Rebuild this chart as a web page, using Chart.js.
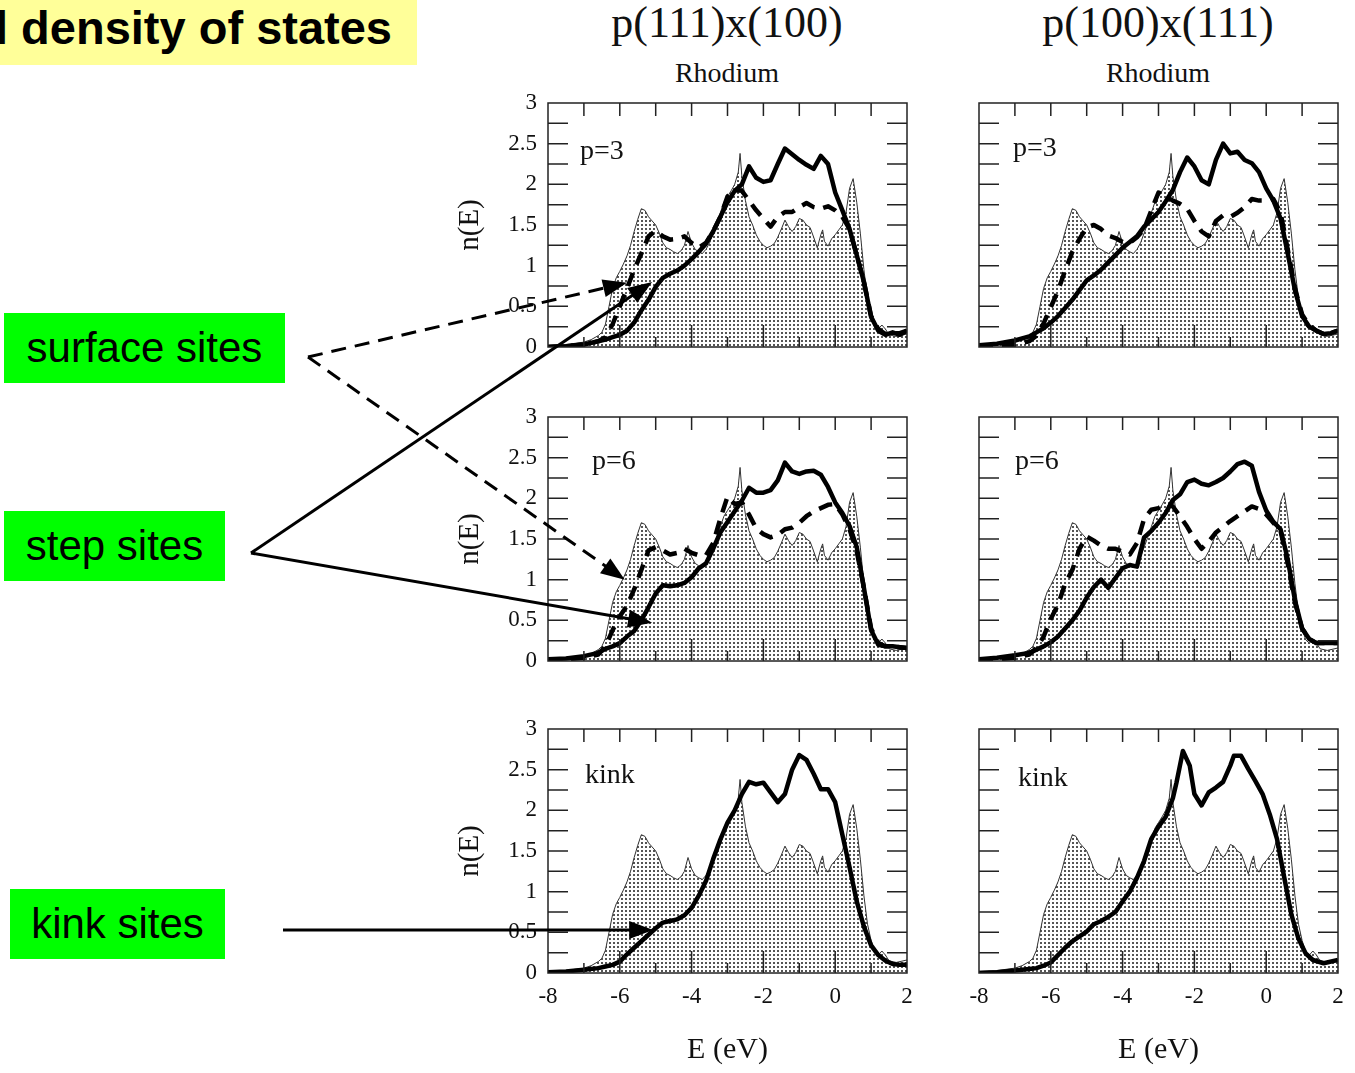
<!DOCTYPE html>
<html lang="en">
<head>
<meta charset="UTF-8">
<title>Local density of states</title>
<script src="https://cdn.jsdelivr.net/npm/chart.js@4.4.1/dist/chart.umd.min.js"></script>
<style>
  body { margin: 0; background: #fff; }
  .page { position: relative; width: 1355px; height: 1073px; overflow: hidden; }
  .title { position: absolute; left: 0; top: 0; width: 417px; height: 65px; background: #ffff99; overflow: hidden; }
  .title span { position: absolute; left: -5px; top: 0; line-height: 57px; font: bold 47px "Liberation Sans", Arial, sans-serif; white-space: nowrap; }
  .tag { position: absolute; background: #00ff00; display: flex; align-items: center; justify-content: center; font: 42px "Liberation Sans", Arial, sans-serif; }
  .head { position: absolute; transform: translate(-50%, -50%); font-family: "Liberation Serif", "Times New Roman", serif; white-space: nowrap; line-height: 1; color: #111; }
  canvas { position: absolute; }
  svg { position: absolute; left: 0; top: 0; }
</style>
</head>
<body>
<div class="page" id="page">
  <div class="title"><span>l density of states</span></div>

  <div class="head" style="left:727px; top:23px; font-size:44px">p(111)x(100)</div>
  <div class="head" style="left:727px; top:73px; font-size:28px">Rhodium</div>
  <div class="head" style="left:1158px; top:23px; font-size:44px">p(100)x(111)</div>
  <div class="head" style="left:1158px; top:73px; font-size:28px">Rhodium</div>

  <div class="tag" style="left:4px; top:313px; width:281px; height:70px">surface sites</div>
  <div class="tag" style="left:4px; top:511px; width:221px; height:70px">step sites</div>
  <div class="tag" style="left:10px; top:889px; width:215px; height:70px">kink sites</div>
</div>

<script>
// bulk density of states (thin line, dotted fill) - same in every panel
var bulkE = [-8, -7.5, -7, -6.8, -6.6, -6.5, -6.4, -6.3, -6.2, -6.1,
             -6.0, -5.9, -5.8, -5.7, -5.6, -5.5, -5.4, -5.3, -5.2, -5.1,
             -5.0, -4.9, -4.8, -4.7, -4.6, -4.5, -4.4, -4.3, -4.2, -4.1,
             -4.0, -3.9, -3.8, -3.7, -3.6, -3.5, -3.4, -3.3, -3.2, -3.1,
             -3.0, -2.9, -2.8, -2.7, -2.65, -2.6, -2.5, -2.4, -2.3, -2.2,
             -2.1, -2.0, -1.9, -1.8, -1.7, -1.6, -1.5, -1.4, -1.3, -1.2,
             -1.1, -1.0, -0.9, -0.8, -0.7, -0.6, -0.5, -0.4, -0.35, -0.3,
             -0.2, -0.1, 0.0, 0.1, 0.2, 0.3, 0.4, 0.5, 0.6, 0.7,
             0.8, 0.9, 1.0, 1.1, 1.2, 1.3, 1.4, 1.5, 1.7, 2.0];
var bulkN = [0.02, 0.03, 0.06, 0.09, 0.14, 0.18, 0.28, 0.5, 0.72, 0.85,
             0.93, 1.02, 1.12, 1.25, 1.42, 1.57, 1.7, 1.68, 1.6, 1.55,
             1.5, 1.4, 1.28, 1.22, 1.2, 1.17, 1.15, 1.18, 1.25, 1.42,
             1.28, 1.2, 1.17, 1.15, 1.2, 1.28, 1.4, 1.52, 1.65, 1.78,
             1.85, 1.92, 2.0, 2.15, 2.38, 2.1, 1.8, 1.6, 1.5, 1.38,
             1.3, 1.25, 1.22, 1.24, 1.27, 1.35, 1.45, 1.56, 1.48, 1.42,
             1.48, 1.58, 1.56, 1.5, 1.47, 1.35, 1.22, 1.38, 1.44, 1.3,
             1.24, 1.33, 1.38, 1.44, 1.5, 1.65, 1.95, 2.07, 1.78, 1.4,
             0.95, 0.6, 0.4, 0.26, 0.22, 0.27, 0.22, 0.15, 0.13, 0.16];

// energies for the site-projected curves
var siteE = [-8, -7.5, -7, -6.6, -6.4, -6.2, -6.0, -5.8, -5.6, -5.4,
             -5.2, -5.0, -4.8, -4.6, -4.4, -4.2, -4.0, -3.8, -3.6, -3.4,
             -3.2, -3.0, -2.8, -2.6, -2.4, -2.2, -2.0, -1.8, -1.6, -1.4,
             -1.2, -1.0, -0.8, -0.6, -0.4, -0.2, 0.0, 0.2, 0.4, 0.6,
             0.8, 1.0, 1.2, 1.4, 1.6, 1.8, 2.0];

// p(111)x(100)
var step111p3 = [0.0, 0.01, 0.03, 0.07, 0.09, 0.12, 0.15, 0.2, 0.3, 0.45,
                 0.58, 0.74, 0.85, 0.9, 0.94, 1.0, 1.08, 1.17, 1.27, 1.42,
                 1.6, 1.78, 1.92, 2.0, 2.22, 2.08, 2.03, 2.05, 2.25, 2.44,
                 2.37, 2.3, 2.24, 2.19, 2.35, 2.25, 1.9, 1.68, 1.45, 1.13,
                 0.8, 0.37, 0.2, 0.15, 0.18, 0.15, 0.2];
var surf111p3 = [0.0, 0.01, 0.03, 0.07, 0.12, 0.28, 0.5, 0.72, 0.95, 1.15,
                 1.36, 1.43, 1.36, 1.32, 1.33, 1.36, 1.28, 1.22, 1.28, 1.42,
                 1.6, 1.85, 1.93, 1.92, 1.8, 1.68, 1.58, 1.48, 1.6, 1.66,
                 1.66, 1.72, 1.77, 1.72, 1.7, 1.73, 1.68, 1.6, 1.45, 1.13,
                 0.8, 0.38, 0.22, 0.16, 0.17, 0.17, 0.2];
var step111p6 = [0.02, 0.03, 0.06, 0.1, 0.15, 0.18, 0.22, 0.3, 0.37, 0.5,
                 0.66, 0.83, 0.93, 0.92, 0.93, 0.96, 1.03, 1.14, 1.2, 1.38,
                 1.58, 1.71, 1.84, 1.97, 2.13, 2.07, 2.07, 2.1, 2.22, 2.44,
                 2.33, 2.3, 2.33, 2.34, 2.29, 2.14, 1.95, 1.82, 1.66, 1.4,
                 0.9, 0.38, 0.2, 0.18, 0.18, 0.17, 0.16];
var surf111p6 = [0.0, 0.02, 0.04, 0.08, 0.18, 0.38, 0.55, 0.68, 0.88, 1.12,
                 1.36, 1.4, 1.36, 1.31, 1.33, 1.38, 1.33, 1.3, 1.3, 1.45,
                 1.75, 2.02, 1.93, 1.95, 1.8, 1.63, 1.56, 1.52, 1.55, 1.62,
                 1.64, 1.7, 1.78, 1.84, 1.88, 1.92, 1.93, 1.8, 1.62, 1.35,
                 0.9, 0.4, 0.22, 0.18, 0.18, 0.17, 0.16];
var kink111 = [0.01, 0.02, 0.04, 0.06, 0.08, 0.1, 0.14, 0.23, 0.31, 0.39,
               0.47, 0.55, 0.62, 0.64, 0.66, 0.71, 0.8, 0.95, 1.13, 1.4,
               1.64, 1.85, 2.0, 2.2, 2.35, 2.32, 2.34, 2.22, 2.1, 2.2,
               2.5, 2.68, 2.62, 2.45, 2.26, 2.26, 2.1, 1.7, 1.3, 0.88,
               0.57, 0.34, 0.22, 0.15, 0.11, 0.1, 0.1];

// p(100)x(111)
var step100p3 = [0.02, 0.04, 0.08, 0.13, 0.18, 0.23, 0.3, 0.38, 0.48, 0.58,
                 0.7, 0.82, 0.88, 0.95, 1.04, 1.13, 1.22, 1.29, 1.36, 1.48,
                 1.57, 1.66, 1.79, 1.93, 2.15, 2.33, 2.22, 2.05, 2.0, 2.3,
                 2.5, 2.38, 2.4, 2.3, 2.26, 2.15, 1.95, 1.8, 1.58, 1.15,
                 0.7, 0.38, 0.25, 0.2, 0.16, 0.17, 0.2];
var surf100p3 = [0.0, 0.01, 0.03, 0.07, 0.14, 0.29, 0.49, 0.69, 0.94, 1.17,
                 1.33, 1.47, 1.5, 1.45, 1.37, 1.34, 1.29, 1.28, 1.35, 1.45,
                 1.68, 1.9, 1.85, 1.8, 1.76, 1.7, 1.55, 1.42, 1.36, 1.55,
                 1.62, 1.6, 1.65, 1.72, 1.82, 1.8, 1.8, 1.82, 1.65, 1.2,
                 0.72, 0.4, 0.26, 0.2, 0.16, 0.17, 0.2];
var step100p6 = [0.02, 0.04, 0.07, 0.1, 0.14, 0.18, 0.23, 0.3, 0.4, 0.5,
                 0.62, 0.78, 0.91, 1.0, 0.9, 1.02, 1.14, 1.18, 1.16, 1.52,
                 1.6, 1.7, 1.82, 1.98, 2.05, 2.2, 2.23, 2.18, 2.16, 2.2,
                 2.25, 2.33, 2.42, 2.45, 2.4, 2.08, 1.85, 1.71, 1.62, 1.25,
                 0.75, 0.4, 0.27, 0.22, 0.22, 0.22, 0.22];
var surf100p6 = [0.0, 0.02, 0.04, 0.08, 0.16, 0.3, 0.52, 0.69, 0.95, 1.12,
                 1.38, 1.53, 1.48, 1.42, 1.38, 1.38, 1.34, 1.31, 1.45, 1.75,
                 1.86, 1.88, 1.93, 1.9, 1.78, 1.65, 1.5, 1.38, 1.47, 1.58,
                 1.65, 1.72, 1.78, 1.84, 1.9, 1.87, 1.8, 1.7, 1.6, 1.2,
                 0.72, 0.4, 0.27, 0.22, 0.22, 0.22, 0.22];
// kink on p(100)x(111) has a sharp peak near -2.3 eV, so it gets its own energies
var kink100E = [-8, -7.5, -7, -6.6, -6.4, -6.2, -6.0, -5.8, -5.6, -5.4,
                -5.2, -5.0, -4.8, -4.6, -4.4, -4.2, -4.0, -3.8, -3.6, -3.4,
                -3.2, -3.0, -2.8, -2.6, -2.5, -2.32, -2.13, -2.0, -1.8, -1.6,
                -1.4, -1.2, -1.0, -0.9, -0.7, -0.5, -0.3, -0.1, 0.1, 0.3,
                0.5, 0.7, 0.9, 1.1, 1.3, 1.6, 2.0];
var kink100 = [0.0, 0.01, 0.03, 0.05, 0.06, 0.09, 0.13, 0.22, 0.31, 0.39,
               0.45, 0.51, 0.6, 0.64, 0.69, 0.75, 0.88, 1.0, 1.17, 1.38,
               1.65, 1.8, 1.92, 2.15, 2.34, 2.73, 2.55, 2.2, 2.06, 2.22,
               2.28, 2.35, 2.55, 2.67, 2.67, 2.51, 2.36, 2.2, 1.95, 1.65,
               1.18, 0.72, 0.42, 0.24, 0.16, 0.12, 0.16];

var xTicks = [-8, -6, -4, -2, 0, 2];
var yTicks = [0, 0.5, 1, 1.5, 2, 2.5, 3];

// panel layout (plot area in page pixels)
var colLeft = [548, 979];
var rowTop = [103, 417, 729];
var plotW = 359, plotH = 244;

var panels = [
    { col: 0, row: 0, label: 'p=3',  dx: 32, dy: 49, solid: [siteE, step111p3], dashed: [siteE, surf111p3] },
    { col: 1, row: 0, label: 'p=3',  dx: 34, dy: 46, solid: [siteE, step100p3], dashed: [siteE, surf100p3] },
    { col: 0, row: 1, label: 'p=6',  dx: 44, dy: 45, solid: [siteE, step111p6], dashed: [siteE, surf111p6] },
    { col: 1, row: 1, label: 'p=6',  dx: 36, dy: 45, solid: [siteE, step100p6], dashed: [siteE, surf100p6] },
    { col: 0, row: 2, label: 'kink', dx: 37, dy: 47, solid: [siteE, kink111] },
    { col: 1, row: 2, label: 'kink', dx: 39, dy: 50, solid: [kink100E, kink100] }
];

var serif = '"Liberation Serif", "Times New Roman", serif';

function pts(e, n) {
    return e.map(function (v, i) { return { x: v, y: n[i] }; });
}

function dots(ctx) {
    var t = document.createElement('canvas');
    t.width = 4; t.height = 4;
    var g = t.getContext('2d');
    g.fillStyle = '#ffffff';
    g.fillRect(0, 0, 4, 4);
    g.fillStyle = '#555555';
    g.fillRect(1, 1, 2, 2);
    return ctx.createPattern(t, 'repeat');
}

// box + inward ticks on all four sides, and the panel tag
var frame = {
    id: 'frame',
    afterDatasetsDraw: function (chart, args, opts) {
        var ctx = chart.ctx, a = chart.chartArea;
        var x = chart.scales.x, y = chart.scales.y;
        ctx.save();
        ctx.strokeStyle = '#222';
        ctx.lineWidth = 1.5;
        ctx.beginPath();
        for (var e = -7; e <= 1; e++) {
            var px = x.getPixelForValue(e);
            ctx.moveTo(px, a.top);
            ctx.lineTo(px, a.top + 13);
            ctx.moveTo(px, a.bottom);
            ctx.lineTo(px, a.bottom - (e % 2 === 0 ? 22 : 10));
        }
        for (var k = 1; k < 12; k++) {
            var py = y.getPixelForValue(k * 0.25);
            ctx.moveTo(a.left, py);
            ctx.lineTo(a.left + 20, py);
            ctx.moveTo(a.right, py);
            ctx.lineTo(a.right - 20, py);
        }
        ctx.stroke();
        ctx.strokeRect(a.left, a.top, a.right - a.left, a.bottom - a.top);

        ctx.fillStyle = '#111';
        ctx.font = '28px ' + serif;
        ctx.textBaseline = 'middle';
        ctx.fillText(opts.text, a.left + opts.dx, a.top + opts.dy);
        ctx.restore();
    }
};

var page = document.getElementById('page');
var charts = [];
var boxes = [];

panels.forEach(function (p) {
    var yW = p.col === 0 ? 108 : 20;
    var xH = p.row === 2 ? 100 : 16;
    var left = colLeft[p.col] - yW;
    var top = rowTop[p.row] - 12;

    var cv = document.createElement('canvas');
    cv.width = yW + plotW + 12;
    cv.height = 12 + plotH + xH;
    cv.style.left = left + 'px';
    cv.style.top = top + 'px';
    page.appendChild(cv);
    boxes.push({ left: left, top: top });

    var datasets = [{
        data: pts(p.solid[0], p.solid[1]),
        borderColor: '#000', borderWidth: 4.5, fill: false
    }];
    if (p.dashed) {
        datasets.push({
            data: pts(p.dashed[0], p.dashed[1]),
            borderColor: '#000', borderWidth: 4.5, borderDash: [14, 9], fill: false
        });
    }
    datasets.push({
        data: pts(bulkE, bulkN),
        borderColor: '#333', borderWidth: 1,
        fill: 'origin', backgroundColor: dots(cv.getContext('2d'))
    });

    var chart = new Chart(cv, {
        type: 'line',
        data: { datasets: datasets },
        options: {
            responsive: false,
            animation: false,
            devicePixelRatio: 1,
            layout: { padding: { left: 0, right: 12, top: 12, bottom: 0 } },
            elements: { point: { radius: 0 }, line: { tension: 0, borderJoinStyle: 'round' } },
            plugins: {
                legend: { display: false },
                tooltip: { enabled: false },
                frame: { text: p.label, dx: p.dx, dy: p.dy }
            },
            scales: {
                x: {
                    type: 'linear', min: -8, max: 2,
                    afterBuildTicks: function (s) { s.ticks = xTicks.map(function (v) { return { value: v }; }); },
                    afterFit: function (s) { s.height = xH; s.paddingLeft = 0; s.paddingRight = 0; },
                    grid: { display: false, drawTicks: false },
                    border: { display: false },
                    ticks: { display: p.row === 2, color: '#111', padding: 10, font: { family: serif, size: 23 },
                             callback: function (v) { return String(v); } },
                    title: { display: p.row === 2, text: 'E (eV)', color: '#111', padding: { top: 0, bottom: 5 }, font: { family: serif, size: 30 } }
                },
                y: {
                    type: 'linear', min: 0, max: 3,
                    afterBuildTicks: function (s) { s.ticks = yTicks.map(function (v) { return { value: v }; }); },
                    afterFit: function (s) { s.width = yW; s.paddingTop = 0; s.paddingBottom = 0; },
                    grid: { display: false, drawTicks: false },
                    border: { display: false },
                    ticks: { display: p.col === 0, color: '#111', padding: 11, font: { family: serif, size: 23 },
                             callback: function (v) { return String(v); } },
                    title: { display: p.col === 0, text: 'n(E)', color: '#111', padding: { top: 13, bottom: 0 }, font: { family: serif, size: 29 } }
                }
            }
        },
        plugins: [frame]
    });
    charts.push(chart);
});

// arrows from the labels to the curves: tail in page pixels, tip in data units of a panel
var arrows = [
    { from: [308, 357], panel: 0, to: [-5.8, 0.79], dashed: true },
    { from: [308, 357], panel: 2, to: [-5.86, 1.0], dashed: true },
    { from: [251, 553], panel: 0, to: [-5.1, 0.8], dashed: false },
    { from: [251, 553], panel: 2, to: [-5.1, 0.47], dashed: false },
    { from: [283, 930], panel: 4, to: [-5.07, 0.53], dashed: false }
];

var ns = 'http://www.w3.org/2000/svg';
var svg = document.createElementNS(ns, 'svg');
svg.setAttribute('width', 1355);
svg.setAttribute('height', 1073);
page.appendChild(svg);

arrows.forEach(function (ar) {
    var c = charts[ar.panel], b = boxes[ar.panel];
    var tx = b.left + c.scales.x.getPixelForValue(ar.to[0]);
    var ty = b.top + c.scales.y.getPixelForValue(ar.to[1]);
    var fx = ar.from[0], fy = ar.from[1];
    var len = Math.hypot(tx - fx, ty - fy);
    var ux = (tx - fx) / len, uy = (ty - fy) / len;
    var hl = 24, hw = 9;

    var line = document.createElementNS(ns, 'line');
    line.setAttribute('x1', fx);
    line.setAttribute('y1', fy);
    line.setAttribute('x2', tx - ux * hl * 0.8);
    line.setAttribute('y2', ty - uy * hl * 0.8);
    line.setAttribute('stroke', '#000');
    line.setAttribute('stroke-width', 3);
    if (ar.dashed) line.setAttribute('stroke-dasharray', '15 9');
    svg.appendChild(line);

    var bx = tx - ux * hl, by = ty - uy * hl;
    var head = document.createElementNS(ns, 'polygon');
    head.setAttribute('points', [
        tx + ',' + ty,
        (bx - uy * hw) + ',' + (by + ux * hw),
        (bx + uy * hw) + ',' + (by - ux * hw)
    ].join(' '));
    head.setAttribute('fill', '#000');
    svg.appendChild(head);
});
</script>
</body>
</html>
